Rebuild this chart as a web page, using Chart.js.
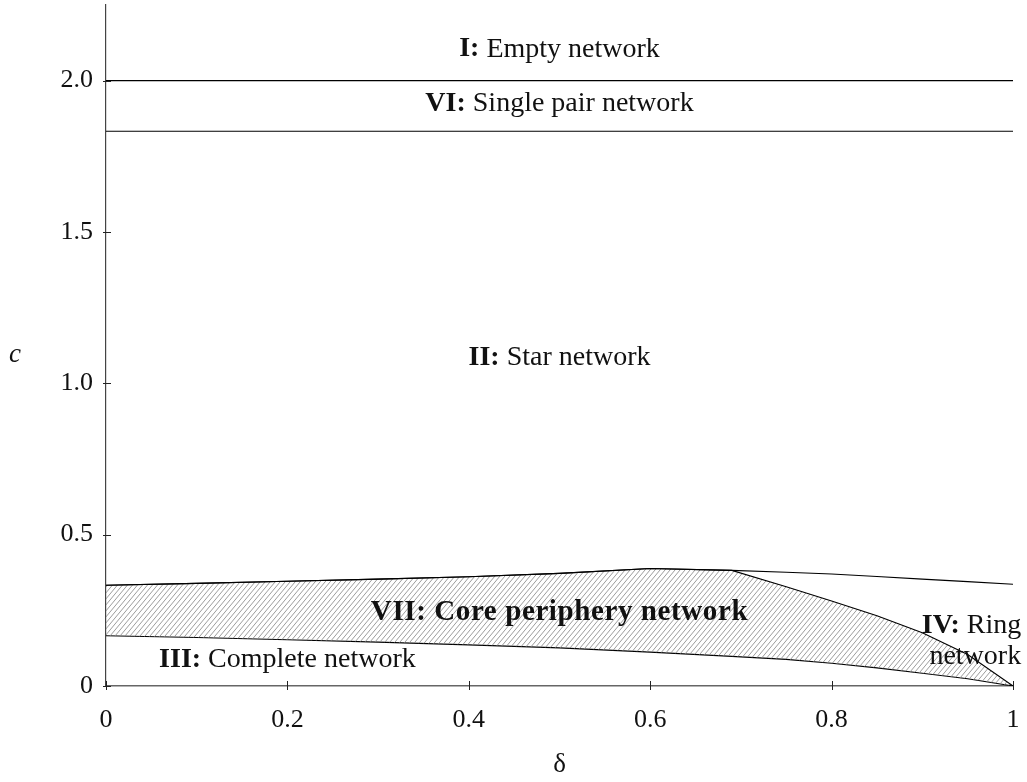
<!DOCTYPE html>
<html>
<head>
<meta charset="utf-8">
<script src="https://cdn.jsdelivr.net/npm/chart.js@4"></script>
<style>
  html, body { margin: 0; padding: 0; background: #fff; }
  #wrap { width: 1027px; height: 782px; }
</style>
</head>
<body>
<div id="wrap"><canvas id="chart"></canvas></div>
<script>
const deltas = [0, 0.1, 0.2, 0.3, 0.4, 0.5, 0.6, 0.69, 0.75, 0.8, 0.85, 0.9, 0.95, 1];
// top border of ring / core periphery zone
const ringTop = [0.333, 0.339, 0.346, 0.353, 0.361, 0.372, 0.388, 0.382, 0.376, 0.370, 0.362, 0.353, 0.345, 0.336];
// top border of the hatched core periphery area
const coreTop = [0.333, 0.339, 0.346, 0.353, 0.361, 0.372, 0.388, 0.382, 0.328, 0.281, 0.232, 0.176, 0.104, 0];
// top border of the complete network area
const completeTop = [0.166, 0.160, 0.153, 0.145, 0.136, 0.126, 0.112, 0.098, 0.088, 0.075, 0.060, 0.042, 0.024, 0];
// flat borders
const emptyBottom = 2.0;
const pairBottom = 1.833;

const xTicks = [0, 0.2, 0.4, 0.6, 0.8, 1];
const xTickLabels = ['0', '0.2', '0.4', '0.6', '0.8', '1'];
const yTicks = [0, 0.5, 1.0, 1.5, 2.0];
const yTickLabels = ['0', '0.5', '1.0', '1.5', '2.0'];

// region names: [text, bold] parts
const regions = [
  { x: 0.5, y: 2.104, parts: [['I:', true], [' Empty network', false]] },
  { x: 0.5, y: 1.923, parts: [['VI:', true], [' Single pair network', false]] },
  { x: 0.5, y: 1.086, parts: [['II:', true], [' Star network', false]] },
  { x: 0.5, y: 0.244, parts: [['VII: Core periphery network', true]], size: 29, spacing: 0.6 },
  { x: 0.2, y: 0.086, parts: [['III:', true], [' Complete network', false]] },
  { x: 1.009, y: 0.2, parts: [['IV:', true], [' Ring', false]], align: 'right' },
  { x: 1.009, y: 0.096, parts: [['network', false]], align: 'right' }
];

const serif = '"Liberation Serif", "DejaVu Serif", serif';

// diagonal hatching
function hatch() {
  const w = 5, h = 6;
  const c = document.createElement('canvas');
  c.width = w; c.height = h;
  const g = c.getContext('2d');
  g.strokeStyle = '#8a8a8a';
  g.lineWidth = 0.85;
  g.beginPath();
  for (let k = -1; k <= 1; k++) {
    g.moveTo(k * w, h); g.lineTo(k * w + w, 0);
  }
  g.stroke();
  return g.createPattern(c, 'repeat');
}

const pts = (ys) => deltas.map((d, i) => ({ x: d, y: ys[i] }));
const flat = (v) => [{ x: 0, y: v }, { x: 1, y: v }];

const line = { borderColor: '#000', borderWidth: 1.1, pointRadius: 0, tension: 0, fill: false };

const decor = {
  id: 'decor',
  afterDraw(chart) {
    const ctx = chart.ctx;
    const xs = chart.scales.x, ys = chart.scales.y;
    const ax = xs.getPixelForValue(0), ay = ys.getPixelForValue(0);
    ctx.save();
    // tick marks crossing the axes
    ctx.strokeStyle = '#222';
    ctx.lineWidth = 1;
    ctx.beginPath();
    xTicks.forEach(t => {
      const p = Math.round(xs.getPixelForValue(t)) + 0.5;
      ctx.moveTo(p, ay - 5); ctx.lineTo(p, ay + 4);
    });
    yTicks.forEach(t => {
      const p = Math.round(ys.getPixelForValue(t)) + 0.5;
      ctx.moveTo(ax - 3, p); ctx.lineTo(ax + 5, p);
    });
    ctx.stroke();

    // region labels
    ctx.fillStyle = '#111';
    ctx.textBaseline = 'middle';
    ctx.textAlign = 'left';
    regions.forEach(r => {
      ctx.letterSpacing = (r.spacing || 0) + 'px';
      const fonts = r.parts.map(p => (p[1] ? 'bold ' : '') + (r.size || 28) + 'px ' + serif);
      let w = 0;
      const widths = r.parts.map((p, i) => { ctx.font = fonts[i]; const m = ctx.measureText(p[0]).width; w += m; return m; });
      const px = xs.getPixelForValue(r.x), py = ys.getPixelForValue(r.y);
      let x = r.align === 'right' ? px - w : px - w / 2;
      r.parts.forEach((p, i) => { ctx.font = fonts[i]; ctx.fillText(p[0], x, py); x += widths[i]; });
    });
    ctx.letterSpacing = '0px';

    // axis titles
    ctx.textAlign = 'center';
    ctx.font = '27px ' + serif;
    ctx.fillText('δ', (xs.left + xs.right) / 2, 765);
    ctx.font = 'italic 27px ' + serif;
    ctx.fillText('c', 15, 355);
    ctx.restore();
  }
};

new Chart(document.querySelector('#chart'), {
  type: 'line',
  data: {
    datasets: [
      { ...line, data: flat(emptyBottom) },
      { ...line, data: flat(pairBottom) },
      { ...line, data: pts(ringTop) },
      { ...line, data: pts(coreTop), fill: { target: 4 }, backgroundColor: hatch() },
      { ...line, data: pts(completeTop) }
    ]
  },
  options: {
    responsive: true,
    maintainAspectRatio: false,
    animation: false,
    layout: { padding: { top: 5, right: 14, left: 0, bottom: 0 } },
    plugins: { legend: { display: false }, tooltip: { enabled: false } },
    scales: {
      x: {
        type: 'linear', min: 0, max: 1,
        afterBuildTicks: (s) => { s.ticks = xTicks.map(v => ({ value: v })); },
        afterFit: (s) => { s.height = 96; s.paddingLeft = 0; s.paddingRight = 0; },
        ticks: {
          callback: (v, i) => xTickLabels[i],
          font: { family: serif, size: 26 }, color: '#111', padding: 19, maxRotation: 0
        },
        grid: { display: false, drawTicks: false },
        border: { display: true, color: '#666', width: 1.6 }
      },
      y: {
        type: 'linear', min: 0, max: 2.25,
        afterBuildTicks: (s) => { s.ticks = yTicks.map(v => ({ value: v })); },
        afterFit: (s) => { s.width = 106; s.paddingTop = 0; s.paddingBottom = 0; },
        ticks: {
          callback: (v, i) => yTickLabels[i],
          font: { family: serif, size: 26 }, color: '#111', padding: 13
        },
        grid: { display: false, drawTicks: false },
        border: { display: true, color: '#444', width: 1.2 }
      }
    }
  },
  plugins: [decor]
});
</script>
</body>
</html>
